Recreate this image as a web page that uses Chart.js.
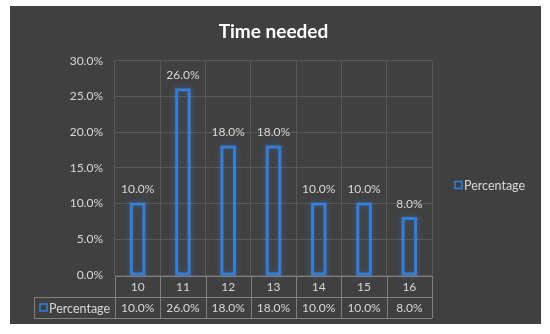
<!DOCTYPE html>
<html>
<head>
<meta charset="utf-8">
<script src="https://cdn.jsdelivr.net/npm/chart.js@4"></script>
<style>
  body { margin: 0; background: #fff; }
  #wrap { width: 550px; height: 334px; }
</style>
</head>
<body>
<div id="wrap"><canvas id="time-chart"></canvas></div>
<script>
const categories = ['10', '11', '12', '13', '14', '15', '16'];
const percentages = [10, 26, 18, 18, 10, 10, 8];
const yTicks = [0, 5, 10, 15, 20, 25, 30];
const seriesName = 'Percentage';
const chartTitle = 'Time needed';

const FONT = 'Lato';
const TEXT = '#d9d9d9';
const BLUE = '#2f80e0';
const GRID = '#595959';
const TABLE_LINE = '#808080';

function pct(v) {
  return v.toFixed(1) + '%'
}

// background, glow, data labels, data table and side legend
const excelLook = {
  id: 'excelLook',
  beforeDraw(chart) {
    const ctx = chart.ctx
    ctx.save()
    ctx.fillStyle = '#ffffff'
    ctx.fillRect(0, 0, chart.width, chart.height)
    ctx.fillStyle = '#404040'
    ctx.fillRect(10, 6, 531, 318)
    ctx.restore()
  },
  beforeDatasetsDraw(chart) {
    const ctx = chart.ctx
    const bars = chart.getDatasetMeta(0).data
    ctx.save()
    ctx.strokeStyle = 'rgba(70,150,255,0.6)'
    ctx.shadowColor = 'rgba(60,140,255,1)'
    ctx.shadowBlur = 6
    ctx.lineWidth = 2
    bars.forEach(bar => {
      const w = bar.width
      ctx.strokeRect(bar.x - w / 2, bar.y, w, bar.base - bar.y)
    })
    ctx.restore()
  },
  afterDatasetsDraw(chart) {
    const ctx = chart.ctx
    const x = chart.scales.x
    const area = chart.chartArea
    const bars = chart.getDatasetMeta(0).data

    ctx.save()
    ctx.font = '12px ' + FONT
    ctx.fillStyle = TEXT
    ctx.textAlign = 'center'
    ctx.textBaseline = 'middle'
    bars.forEach((bar, i) => {
      ctx.fillText(pct(percentages[i]), bar.x, bar.y - 14)
    })

    // data table under the plot
    const top = x.top + 1
    const bottom = x.bottom
    const mid = (top + bottom) / 2
    const colW = (area.right - area.left) / categories.length
    const legendLeft = 34

    ctx.strokeStyle = TABLE_LINE
    ctx.lineWidth = 1
    ctx.beginPath()
    ctx.moveTo(area.left, top + 0.5); ctx.lineTo(area.right, top + 0.5)
    ctx.moveTo(legendLeft, mid + 0.5); ctx.lineTo(area.right, mid + 0.5)
    ctx.moveTo(legendLeft, bottom + 0.5); ctx.lineTo(area.right, bottom + 0.5)
    ctx.moveTo(legendLeft + 0.5, mid); ctx.lineTo(legendLeft + 0.5, bottom)
    for (let i = 0; i <= categories.length; i++) {
      const px = Math.round(area.left + i * colW) + 0.5
      ctx.moveTo(px, top); ctx.lineTo(px, bottom)
    }
    ctx.stroke()

    categories.forEach((c, i) => {
      const cx = x.getPixelForValue(i)
      ctx.fillText(c, cx, (top + mid) / 2 + 1)
      ctx.fillText(pct(percentages[i]), cx, (mid + bottom) / 2 + 1)
    })

    ctx.strokeStyle = BLUE
    ctx.lineWidth = 1.5
    ctx.strokeRect(40, (mid + bottom) / 2 - 3.5, 7, 7)
    ctx.font = '12.5px ' + FONT
    ctx.textAlign = 'left'
    ctx.fillText(seriesName, 49, (mid + bottom) / 2 + 1)

    // legend at the right
    ctx.strokeRect(455, 181.5, 7, 7)
    ctx.fillText(seriesName, 464, 186)
    ctx.restore()
  }
}

const timeChartCanvas = document.getElementById('time-chart')
let timeChartData = {
  type: 'bar',
  data: {
    labels: categories,
    datasets: [{
      label: seriesName,
      data: percentages,
      backgroundColor: 'rgba(0,0,0,0)',
      borderColor: BLUE,
      borderWidth: 2,
      borderSkipped: false,
      barPercentage: 0.3,
      categoryPercentage: 1
    }]
  },
  options: {
    responsive: true,
    maintainAspectRatio: false,
    animation: false,
    layout: {
      padding: { top: 6, left: 10, right: 118, bottom: 16 }
    },
    scales: {
      x: {
        ticks: { display: false },
        grid: { color: GRID, drawTicks: false, offset: true },
        border: { display: false },
        afterFit(scale) { scale.height = 43 }
      },
      y: {
        min: 0,
        max: 30,
        afterBuildTicks(scale) {
          scale.ticks = yTicks.map(v => ({ value: v }))
        },
        ticks: {
          color: TEXT,
          padding: 12,
          font: { family: FONT, size: 12 },
          callback: v => pct(v)
        },
        grid: { color: GRID, drawTicks: false },
        border: { display: false },
        afterFit(scale) { scale.width = 105 }
      }
    },
    plugins: {
      legend: { display: false },
      tooltip: { enabled: false },
      title: {
        display: true,
        fullSize: false,
        text: chartTitle,
        color: '#ffffff',
        font: { family: FONT, size: 19, weight: 'bold', lineHeight: 1.2 },
        padding: { top: 14, bottom: 18 }
      }
    }
  },
  plugins: [excelLook]
}
let timeChart = new Chart(timeChartCanvas, timeChartData)
</script>
</body>
</html>
